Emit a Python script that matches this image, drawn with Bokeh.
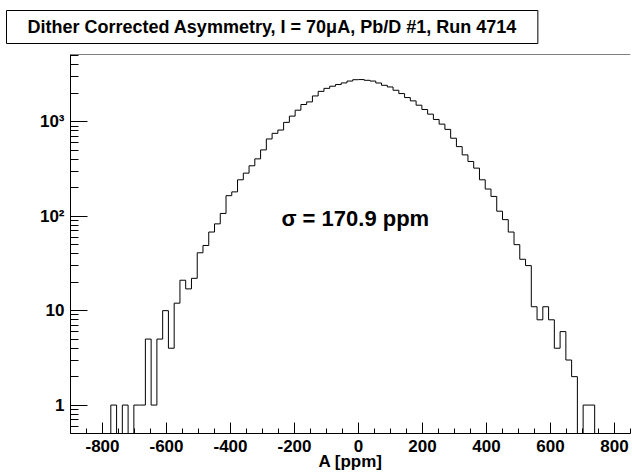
import numpy as np
from bokeh.plotting import figure
from bokeh.models import Range1d, FixedTicker, Label, Span
from bokeh.embed import file_html
from bokeh.resources import INLINE

# ---- data ----
bin_low = -900
bin_width = 18
counts = [
    0, 0, 0, 0, 0, 0, 0, 1, 0, 1,
    0, 1, 1, 5, 1, 5, 10, 4, 12, 21,
    17, 22, 41, 49, 68, 83, 107, 165, 181, 243,
    286, 342, 405, 504, 658, 755, 818, 986, 1148, 1327,
    1525, 1624, 1878, 2100, 2260, 2380, 2480, 2580, 2700, 2790,
    2800, 2750, 2700, 2575, 2435, 2338, 2157, 1990, 1805, 1665,
    1499, 1350, 1205, 1059, 945, 831, 670, 546, 446, 380,
    323, 243, 194, 162, 113, 92, 68, 50, 35, 30,
    11, 8, 11, 8, 4, 6, 3, 2, 0, 1,
    1, 0, 0, 0, 0, 0, 0, 0, 0, 0,
]
x_major = [-800, -600, -400, -200, 0, 200, 400, 600, 800]
x_minor = list(range(-900, 851, 50))
y_major = [1, 10, 100, 1000]
y_labels = {1: "1", 10: "10", 100: "10\u00b2", 1000: "10\u00b3"}
y_minor = [0.6, 0.7, 0.8, 0.9] + [m * 10 ** e for e in range(0, 4) for m in range(2, 10)]
title_text = "Dither Corrected Asymmetry, I = 70\u03bcA, Pb/D #1, Run 4714"
sigma_text = "\u03c3 = 170.9 ppm"
x_title = "A [ppm]"

FONT = "Liberation Sans"
Y_MIN, Y_MAX = 0.5, 5160

counts = np.array(counts, dtype=float)
edges = bin_low + bin_width * np.arange(len(counts) + 1)
floor = 0.01  # empty bins drawn down past the bottom of the log frame
plot_vals = np.where(counts > 0, counts, floor)
step_y = np.append(plot_vals, plot_vals[-1])

p = figure(width=632, height=473,
           x_range=Range1d(-900, 850), y_range=Range1d(Y_MIN, Y_MAX),
           y_axis_type="log", output_backend="svg", toolbar_location=None,
           min_border_left=70, min_border_right=2, min_border_top=54,
           min_border_bottom=39)
p.outline_line_color = None
p.grid.visible = False
p.background_fill_color = "white"
p.border_fill_color = "white"

p.step(x=edges, y=step_y, mode="after", line_color="black", line_width=1)

# top frame line
p.add_layout(Span(location=Y_MAX, dimension="width", line_color="black", line_width=1))

# x axis
xa = p.xaxis[0]
xa.ticker = FixedTicker(ticks=x_major, minor_ticks=x_minor)
xa.major_label_overrides = {v: str(v) for v in x_major}
xa.major_tick_in = 11
xa.major_tick_out = 0
xa.minor_tick_in = 5
xa.minor_tick_out = 0
xa.major_label_standoff = 6
xa.major_label_text_font = FONT
xa.major_label_text_font_style = "bold"
xa.major_label_text_font_size = "17px"
xa.major_label_text_color = "black"
xa.axis_line_color = "black"
xa.major_tick_line_color = "black"
xa.minor_tick_line_color = "black"
xa.axis_label = x_title
xa.axis_label_standoff = -3
xa.axis_label_text_font = FONT
xa.axis_label_text_font_style = "bold"
xa.axis_label_text_font_size = "17px"
xa.axis_label_text_color = "black"

# y axis
ya = p.yaxis[0]
ya.ticker = FixedTicker(ticks=y_major, minor_ticks=y_minor)
ya.major_label_overrides = y_labels
ya.major_tick_in = 17
ya.major_tick_out = 0
ya.minor_tick_in = 8
ya.minor_tick_out = 0
ya.major_label_standoff = 6
ya.major_label_text_font = FONT
ya.major_label_text_font_style = "bold"
ya.major_label_text_font_size = "17px"
ya.major_label_text_color = "black"
ya.axis_line_color = "black"
ya.major_tick_line_color = "black"
ya.minor_tick_line_color = "black"

# title box
p.title.text = title_text
p.title.align = "left"
p.title.vertical_align = "top"
p.title.offset = -64
p.title.standoff = 18
p.title.text_font = FONT
p.title.text_font_style = "bold"
p.title.text_font_size = "18px"
p.title.text_color = "black"
p.title.border_line_color = "black"
p.title.border_line_width = 1
p.title.background_fill_color = "white"
p.title.padding = dict(left=21, right=21, top=6, bottom=7)

# sigma annotation
p.add_layout(Label(x=-10, y=95, text=sigma_text, text_align="center",
                   text_baseline="middle", text_font=FONT, text_font_style="bold",
                   text_font_size="22px", text_color="black"))

open("out.html", "w").write(file_html(p, INLINE))
